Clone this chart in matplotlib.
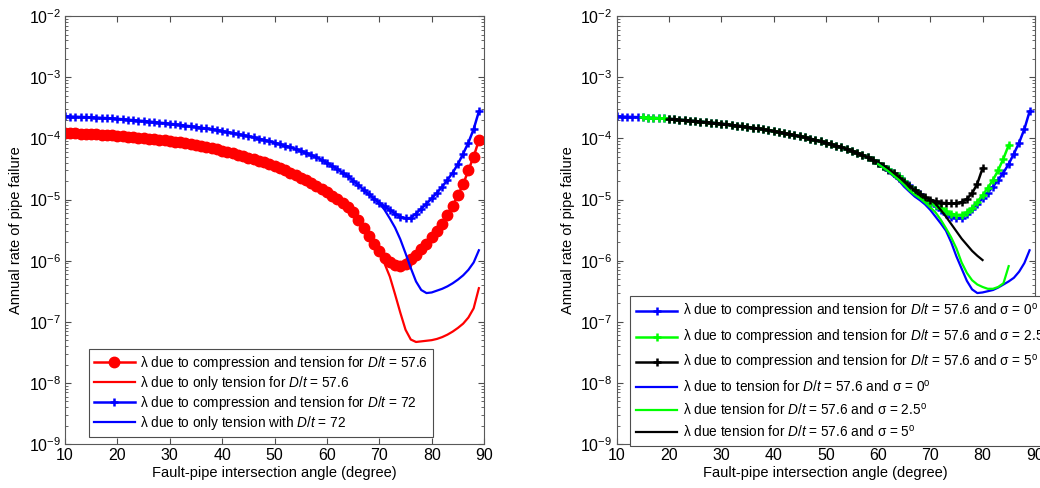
import numpy as np
import matplotlib
matplotlib.use("Agg")
import matplotlib.pyplot as plt
from matplotlib.ticker import LogLocator, NullFormatter

plt.rcParams['font.family'] = ['Liberation Sans', 'DejaVu Sans']
plt.rcParams['mathtext.fontset'] = 'custom'
plt.rcParams['mathtext.rm'] = 'Liberation Sans'
plt.rcParams['mathtext.it'] = 'Liberation Sans:italic'

# fault-pipe angle (degree), 1 degree steps
angles = list(range(10, 90))

# log10 of annual failure rate
# left panel
comp_72 = [-3.640, -3.643, -3.646, -3.649, -3.652, -3.656, -3.660, -3.664, -3.669, -3.674,
           -3.680, -3.687, -3.694, -3.701, -3.708, -3.716, -3.724, -3.733, -3.742, -3.751,
           -3.760, -3.770, -3.780, -3.791, -3.802, -3.813, -3.825, -3.838, -3.851, -3.865,
           -3.880, -3.896, -3.912, -3.929, -3.947, -3.965, -3.984, -4.004, -4.025, -4.047,
           -4.070, -4.094, -4.119, -4.145, -4.172, -4.200, -4.235, -4.270, -4.310, -4.352,
           -4.400, -4.450, -4.505, -4.560, -4.620, -4.690, -4.765, -4.840, -4.915, -4.985,
           -5.050, -5.110, -5.170, -5.230, -5.280, -5.310, -5.300, -5.230, -5.150, -5.070,
           -4.980, -4.890, -4.790, -4.680, -4.560, -4.420, -4.250, -4.070, -3.850, -3.560]
comp_576 = [-3.910, -3.914, -3.918, -3.922, -3.926, -3.931, -3.935, -3.940, -3.945, -3.950,
            -3.955, -3.962, -3.970, -3.978, -3.987, -3.996, -4.005, -4.014, -4.023, -4.032,
            -4.040, -4.053, -4.066, -4.080, -4.094, -4.109, -4.125, -4.141, -4.160, -4.180,
            -4.200, -4.221, -4.243, -4.266, -4.290, -4.315, -4.341, -4.367, -4.394, -4.422,
            -4.450, -4.485, -4.522, -4.560, -4.600, -4.640, -4.685, -4.730, -4.778, -4.828,
            -4.880, -4.935, -4.990, -5.050, -5.120, -5.210, -5.330, -5.460, -5.600, -5.730,
            -5.850, -5.960, -6.030, -6.070, -6.080, -6.050, -5.980, -5.900, -5.810, -5.720,
            -5.620, -5.510, -5.400, -5.260, -5.100, -4.930, -4.750, -4.520, -4.300, -4.030]
tens_576_x = list(range(70, 90))
tens_576 = [-5.850, -6.050, -6.260, -6.550, -6.850, -7.130, -7.290, -7.330, -7.320, -7.310,
            -7.300, -7.280, -7.250, -7.210, -7.160, -7.100, -7.030, -6.930, -6.780, -6.450]
tens_72_x = list(range(68, 90))
tens_72 = [-4.915, -4.985, -5.060, -5.170, -5.310, -5.460, -5.650, -5.880, -6.120, -6.340,
           -6.480, -6.530, -6.520, -6.490, -6.460, -6.420, -6.370, -6.310, -6.240, -6.150,
           -6.030, -5.830]

# right panel (sigma = 0 compression curve is the same as D/t = 72 above)
comp_s0 = comp_72
comp_s25_x = list(range(15, 86))
comp_s25 = comp_72[5:56] + [-4.780, -4.850, -4.920, -4.980, -5.040, -5.090, -5.140, -5.190,
                            -5.230, -5.250, -5.250, -5.210, -5.140, -5.040, -4.930, -4.810,
                            -4.680, -4.520, -4.330, -4.110]
comp_s5_x = list(range(20, 81))
comp_s5 = comp_72[10:50] + [-4.400, -4.450, -4.510, -4.570, -4.640, -4.710, -4.780, -4.850,
                            -4.910, -4.960, -5.000, -5.030, -5.050, -5.060, -5.065, -5.060,
                            -5.040, -4.990, -4.900, -4.740, -4.490]
tens_s0_x = list(range(60, 90))
tens_s0 = [-4.420, -4.480, -4.550, -4.620, -4.690, -4.790, -4.870, -4.950, -5.010, -5.080,
           -5.170, -5.280, -5.390, -5.510, -5.700, -5.930, -6.130, -6.330, -6.470, -6.530,
           -6.520, -6.500, -6.480, -6.440, -6.390, -6.340, -6.280, -6.180, -6.040, -5.830]
tens_s25_x = list(range(60, 86))
tens_s25 = [-4.420, -4.480, -4.540, -4.610, -4.680, -4.760, -4.850, -4.920, -4.980, -5.050,
            -5.130, -5.210, -5.330, -5.470, -5.620, -5.800, -6.030, -6.200, -6.320, -6.390,
            -6.430, -6.460, -6.460, -6.430, -6.370, -6.090]
tens_s5_x = list(range(70, 81))
tens_s5 = [-5.000, -5.070, -5.170, -5.280, -5.400, -5.520, -5.640, -5.740, -5.840, -5.920,
           -5.990]

labels_left = [r'λ due to compression and tension for $D/t$ = 57.6',
               r'λ due to only tension for $D/t$ = 57.6',
               r'λ due to compression and tension for $D/t$ = 72',
               r'λ due to only tension with $D/t$ = 72']
labels_right = [r'λ due to compression and tension for $D/t$ = 57.6 and σ = 0$^{\mathrm{o}}$',
                r'λ due to compression and tension for $D/t$ = 57.6 and σ = 2.5$^{\mathrm{o}}$',
                r'λ due to compression and tension for $D/t$ = 57.6 and σ = 5$^{\mathrm{o}}$',
                r'λ due to tension for $D/t$ = 57.6 and σ = 0$^{\mathrm{o}}$',
                r'λ due tension for $D/t$ = 57.6 and σ = 2.5$^{\mathrm{o}}$',
                r'λ due tension for $D/t$ = 57.6 and σ = 5$^{\mathrm{o}}$']

def p(v):
    return 10.0 ** np.array(v)

def style_axes(ax):
    ax.set_yscale('log')
    ax.set_xlim(10, 90)
    ax.set_ylim(1e-9, 1e-2)
    ax.set_xticks(range(10, 91, 10))
    ax.yaxis.set_major_locator(LogLocator(base=10, numticks=20))
    ax.yaxis.set_minor_locator(LogLocator(base=10, subs=np.arange(2, 10), numticks=20))
    ax.yaxis.set_minor_formatter(NullFormatter())
    ax.tick_params(which='both', direction='in', top=True, right=True, color='0.3')
    ax.tick_params(which='major', length=4, labelsize=11.5, pad=3)
    ax.tick_params(which='minor', length=2)
    for s in ax.spines.values():
        s.set_color('0.35')
        s.set_linewidth(0.8)
    ax.set_xlabel('Fault-pipe intersection angle (degree)', fontsize=10.5, labelpad=2)
    ax.set_ylabel('Annual rate of pipe failure', fontsize=10.5, labelpad=4)

fig = plt.figure(figsize=(10.4, 4.88), dpi=100)
ax1 = fig.add_axes([0.0625, 0.090, 0.403, 0.877])
ax2 = fig.add_axes([0.593, 0.090, 0.402, 0.877])

mk = dict(marker='+', markersize=5.5, markeredgewidth=1.8, linewidth=1.8)

ax1.plot(angles, p(comp_576), color='red', marker='o', markersize=7.5, linewidth=1.8,
         label=labels_left[0])
ax1.plot(tens_576_x, p(tens_576), color='red', linewidth=1.6, label=labels_left[1])
ax1.plot(angles, p(comp_72), color='blue', label=labels_left[2], **mk)
ax1.plot(tens_72_x, p(tens_72), color='blue', linewidth=1.6, label=labels_left[3])
style_axes(ax1)
leg1 = ax1.legend(loc='upper left', bbox_to_anchor=(0.0856, 0.285),
                  bbox_transform=fig.transFigure, fontsize=9.8, numpoints=1,
                  handlelength=3.0, handletextpad=0.4, labelspacing=0.15,
                  borderpad=0.35, fancybox=False, edgecolor='0.3', framealpha=1,
                  borderaxespad=0)
leg1.get_frame().set_linewidth(0.8)

ax2.plot(angles, p(comp_s0), color='blue', label=labels_right[0], **mk)
ax2.plot(comp_s25_x, p(comp_s25), color='#00ff00', label=labels_right[1], **mk)
ax2.plot(comp_s5_x, p(comp_s5), color='black', label=labels_right[2], **mk)
ax2.plot(tens_s0_x, p(tens_s0), color='blue', linewidth=1.6, label=labels_right[3])
ax2.plot(tens_s25_x, p(tens_s25), color='#00ff00', linewidth=1.6, label=labels_right[4])
ax2.plot(tens_s5_x, p(tens_s5), color='black', linewidth=1.6, label=labels_right[5])
style_axes(ax2)
leg2 = ax2.legend(loc='upper left', bbox_to_anchor=(0.606, 0.393),
                  bbox_transform=fig.transFigure, fontsize=9.8, numpoints=1,
                  handlelength=3.0, handletextpad=0.4, labelspacing=0.48,
                  borderpad=0.45, fancybox=False, edgecolor='0.3', framealpha=1,
                  borderaxespad=0)
leg2.get_frame().set_linewidth(0.8)

fig.savefig('out.png', dpi=100)
